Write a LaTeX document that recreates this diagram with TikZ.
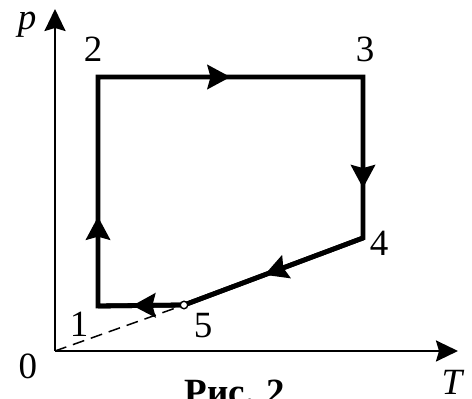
\documentclass[tikz,border=0pt]{standalone}
\usepackage{fontspec}
\setmainfont{Liberation Serif}
\usetikzlibrary{arrows.meta,decorations.markings}
\begin{document}
\begin{tikzpicture}[x=1pt,y=1pt,
  axisline/.style={line width=2.2pt,-{Stealth[length=22pt,width=21pt,inset=3pt]}},
  mainline/.style={line width=4.8pt,line join=miter},
  arrowat/.style={postaction={decorate,decoration={markings,
      mark=at position #1 with {\arrow{Stealth[length=23pt,width=24pt,inset=3pt]}}}}},
  lab/.style={font=\fontsize{37}{42}\selectfont,inner sep=0pt},
  dashline/.style={line width=1.5pt,dash pattern=on 12pt off 7pt}
]
\useasboundingbox (0,0) rectangle (472,399);
% points
\coordinate (O) at (55,48);
\coordinate (ytip) at (55,390);
\coordinate (xtip) at (458,48);
\coordinate (p1) at (98,93);
\coordinate (p2) at (98,322);
\coordinate (p3) at (363,322);
\coordinate (p4) at (363,161);
\coordinate (p5) at (184,94);
% axes
\draw[axisline] (O) -- (ytip);
\draw[axisline] (O) -- (xtip);
% dashed line
\draw[dashline] (O) -- (p5);
% cycle
\draw[mainline] (p1) -- (p2) -- (p3) -- (p4) -- (p5) -- cycle;
\draw[mainline,arrowat=0.39] (p1) -- (p2);
\draw[mainline,arrowat=0.5] (p2) -- (p3);
\draw[mainline,arrowat=0.69] (p3) -- (p4);
\draw[mainline,arrowat=0.55] (p4) -- (p5);
\draw[mainline,arrowat=0.6] (p5) -- (p1);
% point 5 marker
\node[circle,draw,fill=white,inner sep=0pt,minimum size=7.5pt,line width=1.4pt] (n5) at (p5) {};
% labels
\node[lab] (lp) at (27,374) {\itshape p};
\node[lab] (l2) at (93,350) {2};
\node[lab] (l3) at (365,350) {3};
\node[lab] (l4) at (379,156) {4};
\node[lab] (l1) at (79,75) {1};
\node[lab] (l5) at (203,73) {5};
\node[lab] (l0) at (28,33) {0};
\node[lab] (lT) at (452,17) {\itshape T};
\node[lab,anchor=base] (cap) at (235,-6) {\bfseries Рис. 2};
\end{tikzpicture}
\end{document}
